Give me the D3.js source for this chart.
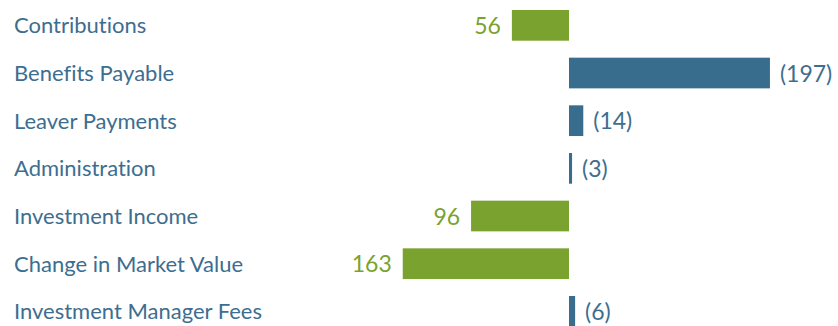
<!DOCTYPE html>
<html>
<head>
<meta charset="utf-8">
<script src="https://cdn.jsdelivr.net/npm/d3@7"></script>
<style>
  html, body { margin: 0; padding: 0; background: #fff; }
  svg { display: block; font-family: Lato, "Open Sans", sans-serif; font-variant-ligatures: none; }
</style>
</head>
<body>
<svg id="chart" width="838" height="326"></svg>
<script>
// Fund account movements: income (positive) grows left, outgoings (negative) grow right
const categories = [
  "Contributions",
  "Benefits Payable",
  "Leaver Payments",
  "Administration",
  "Investment Income",
  "Change in Market Value",
  "Investment Manager Fees"
];
const values = [56, -197, -14, -3, 96, 163, -6];
const valueLabels = ["56", "(197)", "(14)", "(3)", "96", "163", "(6)"];

const width = 838, height = 326;
const zeroX = 569;
const pxPerUnit = 1.02;

const colors = { income: "#7aa22f", outgo: "#386d8e", text: "#3d6e8f" };

const svg = d3.select("#chart");

// incomes to the left of the zero line, outgoings to the right
const x = d3.scaleLinear()
  .domain([-200, 200])
  .range([zeroX + 200 * pxPerUnit, zeroX - 200 * pxPerUnit]);

// one band per category, bars filling about two thirds of each row;
// the last bar runs just past the bottom edge
const y = d3.scaleBand()
  .domain(categories)
  .range([10, 326.7])
  .paddingInner(0.356)
  .paddingOuter(0);

const rows = svg.selectAll("g.row")
  .data(categories.map((c, i) => ({ c, v: values[i], label: valueLabels[i] })))
  .join("g")
  .attr("class", "row");

rows.append("text")
  .attr("x", 14)
  .attr("y", d => y(d.c) + y.bandwidth() / 2)
  .attr("dy", "0.36em")
  .attr("font-size", 22)
  .attr("fill", colors.text)
  .text(d => d.c);

rows.append("rect")
  .attr("x", d => Math.min(x(d.v), x(0)))
  .attr("y", d => y(d.c))
  .attr("width", d => Math.abs(x(d.v) - x(0)))
  .attr("height", y.bandwidth())
  .attr("fill", d => d.v >= 0 ? colors.income : colors.outgo);

rows.append("text")
  .attr("x", d => d.v >= 0 ? x(d.v) - 11 : x(d.v) + 10)
  .attr("y", d => y(d.c) + y.bandwidth() / 2)
  .attr("dy", "0.37em")
  .attr("text-anchor", d => d.v >= 0 ? "end" : "start")
  .attr("font-size", 23)
  .attr("fill", d => d.v >= 0 ? colors.income : colors.text)
  .text(d => d.label);
</script>
</body>
</html>
